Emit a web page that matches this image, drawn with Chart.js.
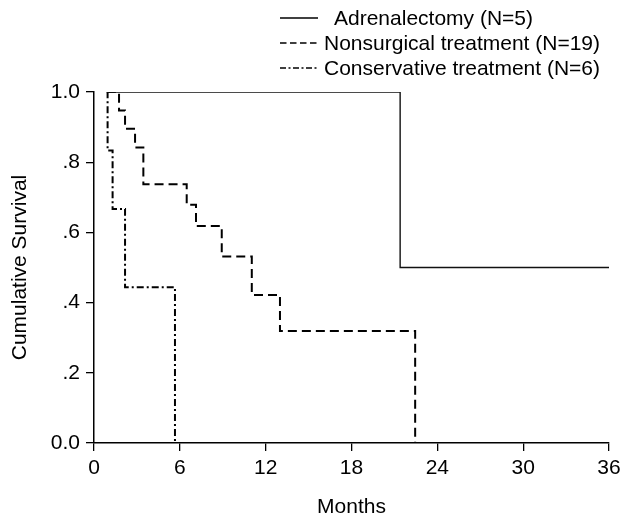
<!DOCTYPE html>
<html>
<head>
<meta charset="utf-8">
<script src="https://cdn.jsdelivr.net/npm/chart.js@4/dist/chart.umd.min.js"></script>
<style>
  html, body { margin: 0; padding: 0; background: #fff; }
  canvas { display: block; }
</style>
</head>
<body>
<canvas id="km" width="631" height="520"></canvas>
<script>
// survival curves (months, cumulative survival)
const adrMonths = [0.9, 21.4, 36];
const adrSurv   = [1, 0.5, 0.5];

const nonMonths = [0.9, 1.75, 2.17, 2.87, 3.45, 6.48, 7.13, 8.93, 11.03, 13.0, 22.45];
const nonSurv   = [1, 0.947, 0.895, 0.842, 0.737, 0.679, 0.618, 0.531, 0.422, 0.319, 0];

const conMonths = [0.9, 0.95, 1.3, 2.17, 5.66];
const conSurv   = [1, 0.833, 0.667, 0.444, 0];

const groupLabels = ["Adrenalectomy (N=5)", "Nonsurgical treatment (N=19)", "Conservative treatment (N=6)"];
const xTicks = [0, 6, 12, 18, 24, 30, 36];
const yTickLabels = ["0.0", ".2", ".4", ".6", ".8", "1.0"];

const FONT = "'Liberation Sans', Arial, sans-serif";
const $ = (id) => document.getElementById(id);

const pts = (xs, ys) => xs.map((x, i) => ({x: x, y: ys[i]}));

// legend drawn by hand so the rows sit stacked at the top right
const legendPlugin = {
  id: "kmLegend",
  afterDraw(chart){
    const ctx = chart.ctx;
    const rows = [
      {y: 18, textX: 334, dash: []},
      {y: 43, textX: 324, dash: [6.5, 3.5]},
      {y: 68, textX: 324, dash: [6, 2.5, 2, 2.5]}
    ];
    ctx.save();
    ctx.font = "21px " + FONT;
    ctx.textBaseline = "middle";
    ctx.fillStyle = "#000";
    chart.data.datasets.forEach((ds, i) => {
      const r = rows[i];
      ctx.beginPath();
      ctx.setLineDash(r.dash);
      ctx.lineWidth = i === 0 ? 1.3 : 1.6;
      ctx.strokeStyle = "#000";
      ctx.moveTo(280, r.y);
      ctx.lineTo(318, r.y);
      ctx.stroke();
      ctx.setLineDash([]);
      ctx.fillText(ds.label, r.textX, r.y + 1);
    });
    ctx.restore();
  }
};

new Chart($("km"), {
  type: "line",
  data: {
    datasets: [
      {label: groupLabels[0], data: pts(adrMonths, adrSurv), stepped: true,
       borderColor: "#111", borderWidth: 1.4, pointRadius: 0, fill: false},
      {label: groupLabels[1], data: pts(nonMonths, nonSurv), stepped: true,
       borderColor: "#000", borderWidth: 2, borderDash: [9, 5], pointRadius: 0, fill: false},
      {label: groupLabels[2], data: pts(conMonths, conSurv), stepped: true,
       borderColor: "#000", borderWidth: 2, borderDash: [7, 3, 2, 3], pointRadius: 0, fill: false}
    ]
  },
  options: {
    responsive: false,
    animation: false,
    layout: {padding: {top: 92, right: 22, left: 0, bottom: 0}},
    plugins: {legend: {display: false}, tooltip: {enabled: false}},
    scales: {
      x: {
        type: "linear", min: 0, max: 36,
        afterBuildTicks: (s) => { s.ticks = xTicks.map(v => ({value: v})); },
        afterFit: (s) => { s.height = 77; },
        grid: {display: true, drawOnChartArea: false, drawTicks: true, tickLength: 8, color: "#000", lineWidth: 1.3},
        border: {display: true, color: "#000", width: 1.5},
        ticks: {color: "#000", font: {family: FONT, size: 21}, padding: 5, maxRotation: 0},
        title: {display: true, text: "Months", color: "#000", font: {family: FONT, size: 21}, padding: {top: 0, bottom: 0}}
      },
      y: {
        type: "linear", min: 0, max: 1,
        ticks: {stepSize: 0.2, color: "#000", font: {family: FONT, size: 21}, padding: 6,
                callback: (v, i) => yTickLabels[i]},
        afterFit: (s) => { s.width = 94; },
        grid: {display: true, drawOnChartArea: false, drawTicks: true, tickLength: 8, color: "#000", lineWidth: 1.3},
        border: {display: true, color: "#000", width: 1.5},
        title: {display: true, text: "Cumulative Survival", color: "#000", font: {family: FONT, size: 21}, padding: {top: 8, bottom: 0}}
      }
    }
  },
  plugins: [legendPlugin]
});
</script>
</body>
</html>
